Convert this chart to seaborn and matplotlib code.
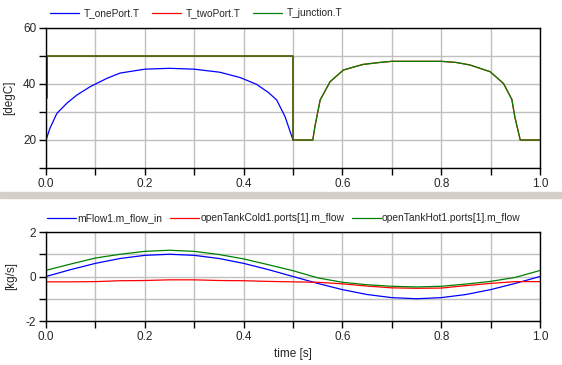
import seaborn as sns
import matplotlib.pyplot as plt
from matplotlib.patches import Rectangle

# top panel: temperatures [degC]
t_one = [0, 0.008, 0.022, 0.042, 0.062, 0.089, 0.123, 0.15, 0.2, 0.25,
         0.3, 0.352, 0.393, 0.426, 0.45, 0.467, 0.484, 0.5]
T_onePort = [20, 24.2, 29.5, 33.1, 36, 39, 42, 43.9, 45.3, 45.6,
             45.3, 44.2, 42.3, 39.9, 37, 34.3, 28.3, 20]

t_junc = [0.002, 0.002, 0.5, 0.5, 0.5, 0.54, 0.545, 0.555, 0.575, 0.602, 0.642,
          0.676, 0.7, 0.8, 0.83, 0.858, 0.899, 0.926, 0.943, 0.949, 0.96, 1.0]
T_junction = [35, 50, 50, 42, 20, 20, 25.4, 34.3, 40.8, 45, 47,
              47.7, 48.1, 48.1, 47.7, 46.8, 44.4, 40.2, 34.5, 28.3, 20, 20]
# two-port temperature sits right under the junction curve
T_twoPort = [35, 50, 50, 42, 20, 20, 25.4, 34.3, 40.8, 45, 47,
             47.7, 48.1, 48.1, 47.7, 46.8, 44.4, 40.2, 34.5, 28.3, 20, 20]

# bottom panel: mass flows [kg/s]
t_flow = [0, 0.05, 0.1, 0.15, 0.2, 0.25, 0.3, 0.35, 0.4, 0.45, 0.5,
          0.55, 0.6, 0.65, 0.7, 0.75, 0.8, 0.85, 0.9, 0.95, 1.0]
m_flow_in = [0, 0.31, 0.59, 0.81, 0.95, 1.0, 0.95, 0.81, 0.59, 0.31, 0,
             -0.31, -0.59, -0.81, -0.95, -1.0, -0.95, -0.81, -0.59, -0.31, 0]
m_cold = [-0.24, -0.24, -0.23, -0.19, -0.18, -0.15, -0.15, -0.18, -0.19, -0.22, -0.24,
          -0.26, -0.33, -0.43, -0.51, -0.53, -0.52, -0.41, -0.31, -0.23, -0.23]
m_hot = [0.28, 0.56, 0.83, 1.0, 1.13, 1.18, 1.13, 0.99, 0.79, 0.53, 0.26,
         -0.06, -0.26, -0.37, -0.44, -0.47, -0.44, -0.34, -0.22, -0.04, 0.27]

xticks = [0, 0.1, 0.2, 0.3, 0.4, 0.5, 0.6, 0.7, 0.8, 0.9, 1.0]
xlabels = ["0.0", "", "0.2", "", "0.4", "", "0.6", "", "0.8", "", "1.0"]

sns.set_style("white")
plt.rcParams["font.family"] = ["Liberation Sans", "DejaVu Sans"]
plt.rcParams["font.size"] = 8

W, H = 562, 365
fig = plt.figure(figsize=(W / 100, H / 100), dpi=100)
ax1 = fig.add_axes([46 / W, 1 - 168 / H, 494 / W, 140 / H])
ax2 = fig.add_axes([46 / W, 1 - 321 / H, 494 / W, 89 / H])

# grey splitter between the two plots
fig.add_artist(Rectangle((0, 1 - 198 / H), 1, 6 / H, transform=fig.transFigure,
                         color="#d4d0c8", zorder=0))


def style_axes(ax, ylim, yticks, ylabels, ylabel):
    ax.set_xlim(0, 1)
    ax.set_ylim(*ylim)
    ax.set_xticks(xticks)
    ax.set_xticklabels(xlabels)
    ax.set_yticks(yticks)
    ax.set_yticklabels(ylabels)
    ax.grid(True, color="#c0c0c0", lw=1)
    ax.set_axisbelow(True)
    for s in ax.spines.values():
        s.set_color("black")
        s.set_linewidth(1)
    ax.tick_params(bottom=True, left=True, direction="out", length=5,
                   width=1, color="black", pad=2, labelsize=8.5)
    ax.set_ylabel(ylabel, labelpad=6, fontsize=8.5)
    ax.set_xlabel("")


lw = 0.9
sns.lineplot(x=t_one, y=T_onePort, ax=ax1, color="#0000ff", lw=lw,
             estimator=None, sort=False, label="T_onePort.T")
sns.lineplot(x=t_junc, y=T_twoPort, ax=ax1, color="#ff0000", lw=lw,
             estimator=None, sort=False, label="T_twoPort.T")
sns.lineplot(x=t_junc, y=T_junction, ax=ax1, color="#008000", lw=lw,
             estimator=None, sort=False, label="T_junction.T")
style_axes(ax1, (10, 60), [10, 20, 30, 40, 50, 60],
           ["", "20", "", "40", "", "60"], "[degC]")
ax1.legend(loc="lower left", bbox_to_anchor=(-0.012, 1.0), ncol=3, frameon=False,
           handlelength=2.9, handletextpad=0.45, columnspacing=1.2,
           borderaxespad=0.75, borderpad=0.2, fontsize=7.3)

sns.lineplot(x=t_flow, y=m_flow_in, ax=ax2, color="#0000ff", lw=lw,
             estimator=None, sort=False, label="mFlow1.m_flow_in")
sns.lineplot(x=t_flow, y=m_cold, ax=ax2, color="#ff0000", lw=lw,
             estimator=None, sort=False, label="openTankCold1.ports[1].m_flow")
sns.lineplot(x=t_flow, y=m_hot, ax=ax2, color="#008000", lw=lw,
             estimator=None, sort=False, label="openTankHot1.ports[1].m_flow")
style_axes(ax2, (-2, 2), [-2, -1, 0, 1, 2], ["-2", "", "0", "", "2"], "[kg/s]")
ax2.set_xlabel("time [s]", labelpad=4, fontsize=8.5)
ax2.legend(loc="lower left", bbox_to_anchor=(-0.016, 1.0), ncol=3, frameon=False,
           handlelength=2.8, handletextpad=0.15, columnspacing=0.75,
           borderaxespad=0.65, borderpad=0.2, fontsize=7.4)

fig.savefig("out.png", dpi=100)
